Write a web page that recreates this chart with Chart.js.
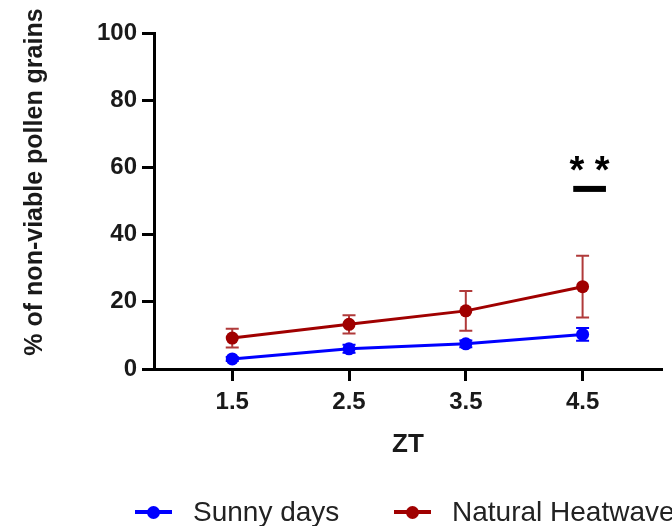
<!DOCTYPE html>
<html>
<head>
<meta charset="utf-8">
<script src="https://cdn.jsdelivr.net/npm/chart.js@4/dist/chart.umd.min.js"></script>
<style>
  html, body { margin: 0; padding: 0; background: #fff; }
  #wrap { position: relative; width: 672px; height: 526px; overflow: hidden; }
  #chart { position: absolute; left: 0; top: 0; }
  .legend { position: absolute; top: 494px; height: 36px; display: flex; align-items: center;
            font-family: "Liberation Sans", Arial, sans-serif; font-size: 28px; color: #222; white-space: nowrap; }
  .swatch { position: relative; width: 37px; height: 14px; margin-right: 21px; }
  .swatch .ln { position: absolute; left: 0; right: 0; top: 5px; height: 4px; }
  .swatch .dot { position: absolute; left: 12px; top: 1px; width: 13px; height: 13px; border-radius: 50%; }
</style>
</head>
<body>
<div id="wrap">
  <canvas id="chart" width="672" height="526"></canvas>
  <div class="legend" style="left:135px"><div class="swatch"><div class="ln" style="background:#0000ff"></div><div class="dot" style="background:#0000ff"></div></div>Sunny days</div>
  <div class="legend" style="left:394px"><div class="swatch"><div class="ln" style="background:#a00000"></div><div class="dot" style="background:#a00000"></div></div>Natural Heatwave</div>
</div>
<script>
// ZT time points and mean % of non-viable pollen (with error)
const zt = [1.5, 2.5, 3.5, 4.5];
const sunnyMean = [3.0, 6.0, 7.5, 10.3];
const sunnyErr = [0.6, 1.2, 1.0, 1.9];
const heatMean = [9.2, 13.3, 17.3, 24.5];
const heatErr = [2.8, 2.7, 5.9, 9.2];
const yTicks = [0, 20, 40, 60, 80, 100];

// significance mark over ZT 4.5
const sigFrom = 4.42;
const sigTo = 4.70;
const sigBarY = 53.6;
const sigTextY = 61.3;
const sigText = "* *";

const FONT = '"Liberation Sans", Arial, sans-serif';

function points(means) {
    return zt.map((x, i) => ({ x: x, y: means[i] }));
}

// vertical error bars with caps, drawn under the points
const errorBars = {
    id: "errorBars",
    beforeDatasetsDraw(chart) {
        const ctx = chart.ctx;
        const xs = chart.scales.x;
        const ys = chart.scales.y;
        chart.data.datasets.forEach((ds) => {
            ctx.save();
            ctx.strokeStyle = ds.errColor;
            ctx.lineWidth = 2;
            ds.data.forEach((p, i) => {
                const px = xs.getPixelForValue(p.x);
                const top = ys.getPixelForValue(p.y + ds.err[i]);
                const bot = ys.getPixelForValue(p.y - ds.err[i]);
                ctx.beginPath();
                ctx.moveTo(px, top); ctx.lineTo(px, bot);
                ctx.moveTo(px - 6.5, top); ctx.lineTo(px + 6.5, top);
                ctx.moveTo(px - 6.5, bot); ctx.lineTo(px + 6.5, bot);
                ctx.stroke();
            });
            ctx.restore();
        });
    }
};

// axis titles and the significance mark
const extras = {
    id: "extras",
    afterDraw(chart) {
        const ctx = chart.ctx;
        const xs = chart.scales.x;
        const ys = chart.scales.y;
        const area = chart.chartArea;
        ctx.save();
        ctx.fillStyle = "#1a1a1a";
        ctx.textAlign = "center";
        ctx.textBaseline = "middle";

        ctx.font = "bold 26px " + FONT;
        ctx.fillText("ZT", (area.left + area.right) / 2, 445);

        ctx.save();
        ctx.translate(35, 182);
        ctx.rotate(-Math.PI / 2);
        ctx.font = "bold 25px " + FONT;
        ctx.fillText("% of non-viable pollen grains", 0, 0);
        ctx.restore();

        // bar
        const y = ys.getPixelForValue(sigBarY);
        ctx.fillStyle = "#000";
        ctx.fillRect(xs.getPixelForValue(sigFrom), y - 3, xs.getPixelForValue(sigTo) - xs.getPixelForValue(sigFrom), 6);

        // stars, centred on their glyph box
        ctx.font = "bold 38px " + FONT;
        ctx.textBaseline = "alphabetic";
        const m = ctx.measureText(sigText);
        const cy = ys.getPixelForValue(sigTextY);
        const base = cy + (m.actualBoundingBoxAscent - m.actualBoundingBoxDescent) / 2;
        ctx.fillText(sigText, (xs.getPixelForValue(sigFrom) + xs.getPixelForValue(sigTo)) / 2, base);
        ctx.restore();
    }
};

const ctx = document.getElementById("chart").getContext("2d");
new Chart(ctx, {
    type: "line",
    data: {
        datasets: [
            {
                label: "Sunny days",
                data: points(sunnyMean),
                err: sunnyErr,
                errColor: "#0000ff",
                borderColor: "#0000ff",
                backgroundColor: "#0000ff",
                borderWidth: 3,
                pointRadius: 6.5,
                pointHoverRadius: 6.5,
                pointBorderWidth: 0,
                tension: 0
            },
            {
                label: "Natural Heatwave",
                data: points(heatMean),
                err: heatErr,
                errColor: "#b03a3a",
                borderColor: "#a00000",
                backgroundColor: "#a00000",
                borderWidth: 3,
                pointRadius: 6.5,
                pointHoverRadius: 6.5,
                pointBorderWidth: 0,
                tension: 0
            }
        ]
    },
    options: {
        responsive: false,
        animation: false,
        layout: { padding: { top: 33, right: 10, bottom: 0, left: 0 } },
        plugins: {
            legend: { display: false },
            tooltip: { enabled: false }
        },
        scales: {
            x: {
                type: "linear",
                min: 0.83,
                max: 5.18,
                afterBuildTicks: (s) => { s.ticks = zt.map(v => ({ value: v })); },
                afterFit: (s) => { s.height = 157; },
                border: { display: true, color: "#000", width: 3 },
                grid: { drawOnChartArea: false, drawTicks: true, tickLength: 12, tickColor: "#000", tickWidth: 3 },
                ticks: {
                    padding: 7,
                    color: "#1a1a1a",
                    font: { family: FONT, size: 24, weight: "bold" },
                    callback: (v) => v.toFixed(1)
                }
            },
            y: {
                min: 0,
                max: 100,
                afterBuildTicks: (s) => { s.ticks = yTicks.map(v => ({ value: v })); },
                afterFit: (s) => { s.width = 154; },
                border: { display: true, color: "#000", width: 3 },
                grid: { drawOnChartArea: false, drawTicks: true, tickLength: 12, tickColor: "#000", tickWidth: 3 },
                ticks: {
                    padding: 5,
                    color: "#1a1a1a",
                    font: { family: FONT, size: 24, weight: "bold" }
                }
            }
        }
    },
    plugins: [errorBars, extras]
});
</script>
</body>
</html>
